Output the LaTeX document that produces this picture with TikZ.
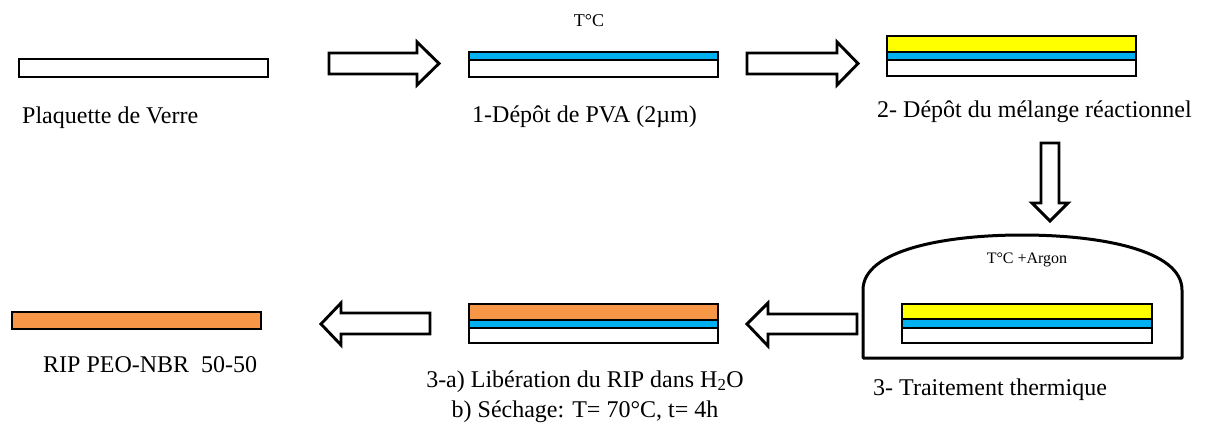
\documentclass[tikz,border=0pt]{standalone}
\usepackage{fontspec}
\setmainfont{Liberation Serif}
\definecolor{pvablue}{HTML}{00B0F0}
\definecolor{mixyellow}{HTML}{FFFF00}
\definecolor{riporange}{HTML}{F79646}
\begin{document}
\begin{tikzpicture}[x=1pt,y=-1pt,
  edge/.style={draw=black,line width=2.9pt},
  blockarrow/.style={draw=black,line width=2.9pt,fill=white,line join=miter},
  lbl/.style={inner sep=0pt,font=\fontsize{24}{30}\selectfont},
  small/.style={inner sep=0pt,font=\fontsize{18}{22}\selectfont},
  tiny/.style={inner sep=0pt,font=\fontsize{16}{20}\selectfont}]
\useasboundingbox (0,0) rectangle (1208,423);
% glass plate
\draw[edge,fill=white] (19,59) rectangle (268,77);
\node[lbl,anchor=base west] (t0) at (22,123) {Plaquette de Verre};
% arrow 1
\draw[blockarrow] (329,53) -- (417,53) -- (417,42) -- (439,63.5) -- (417,85) -- (417,74) -- (329,74) -- cycle;
% plate 2
\fill[pvablue] (469,52) rectangle (718,60);
\draw[edge] (469,60) -- (718,60);
\draw[edge] (469,52) rectangle (718,77);
\node[small,anchor=base] (tc) at (589,27) {T°C};
\node[lbl,anchor=base west] (t1) at (472,122) {1-Dépôt de PVA (2µm)};
% arrow 2
\draw[blockarrow] (747,53) -- (837,53) -- (837,42) -- (858,63.5) -- (837,85) -- (837,74) -- (747,74) -- cycle;
% plate 3
\fill[mixyellow] (887,36) rectangle (1136,52);
\fill[pvablue] (887,52) rectangle (1136,60);
\draw[edge] (887,52) -- (1136,52);
\draw[edge] (887,60) -- (1136,60);
\draw[edge] (887,36) rectangle (1136,76);
\node[lbl,anchor=base west] (t2) at (877,117) {2- Dépôt du mélange réactionnel};
% down arrow
\draw[blockarrow] (1041,143) -- (1059,143) -- (1059,203) -- (1068,203) -- (1050,221) -- (1032,203) -- (1041,203) -- cycle;
% oven
\draw[line width=3pt,fill=white,line join=round] (863,358) -- (863,290) .. controls (863,250) and (945,235) .. (1022,235) .. controls (1100,235) and (1182,250) .. (1182,290) -- (1182,358) -- cycle;
\node[tiny,anchor=base] (targ) at (1027,263) {T°C +Argon};
\fill[mixyellow] (902,304) rectangle (1152,319);
\fill[pvablue] (902,319) rectangle (1152,328);
\draw[edge] (902,319) -- (1152,319);
\draw[edge] (902,328) -- (1152,328);
\draw[edge] (902,304) rectangle (1152,343);
\node[lbl,anchor=base west] (t3) at (873,395) {3- Traitement thermique};
% arrow 3 (left)
\draw[blockarrow] (857,314) -- (768,314) -- (768,303) -- (747,324) -- (768,346) -- (768,334) -- (857,334) -- cycle;
% plate 4
\fill[riporange] (469,304) rectangle (718,320);
\fill[pvablue] (469,320) rectangle (718,328);
\draw[edge] (469,320) -- (718,320);
\draw[edge] (469,328) -- (718,328);
\draw[edge] (469,304) rectangle (718,343);
\node[lbl,anchor=base,align=center] (t4) at (585,417) {3-a) Libération du RIP dans H\textsubscript{2}O\\b) Séchage: T= 70°C, t= 4h};
% arrow 4
\draw[blockarrow] (430,313) -- (341,313) -- (341,303) -- (321,324) -- (341,345) -- (341,334) -- (430,334) -- cycle;
% final film
\draw[edge,fill=riporange] (12,312) rectangle (261,329);
\node[lbl,anchor=base west] (t5) at (43,372) {RIP PEO-NBR\ \ 50-50};
\end{tikzpicture}
\end{document}
